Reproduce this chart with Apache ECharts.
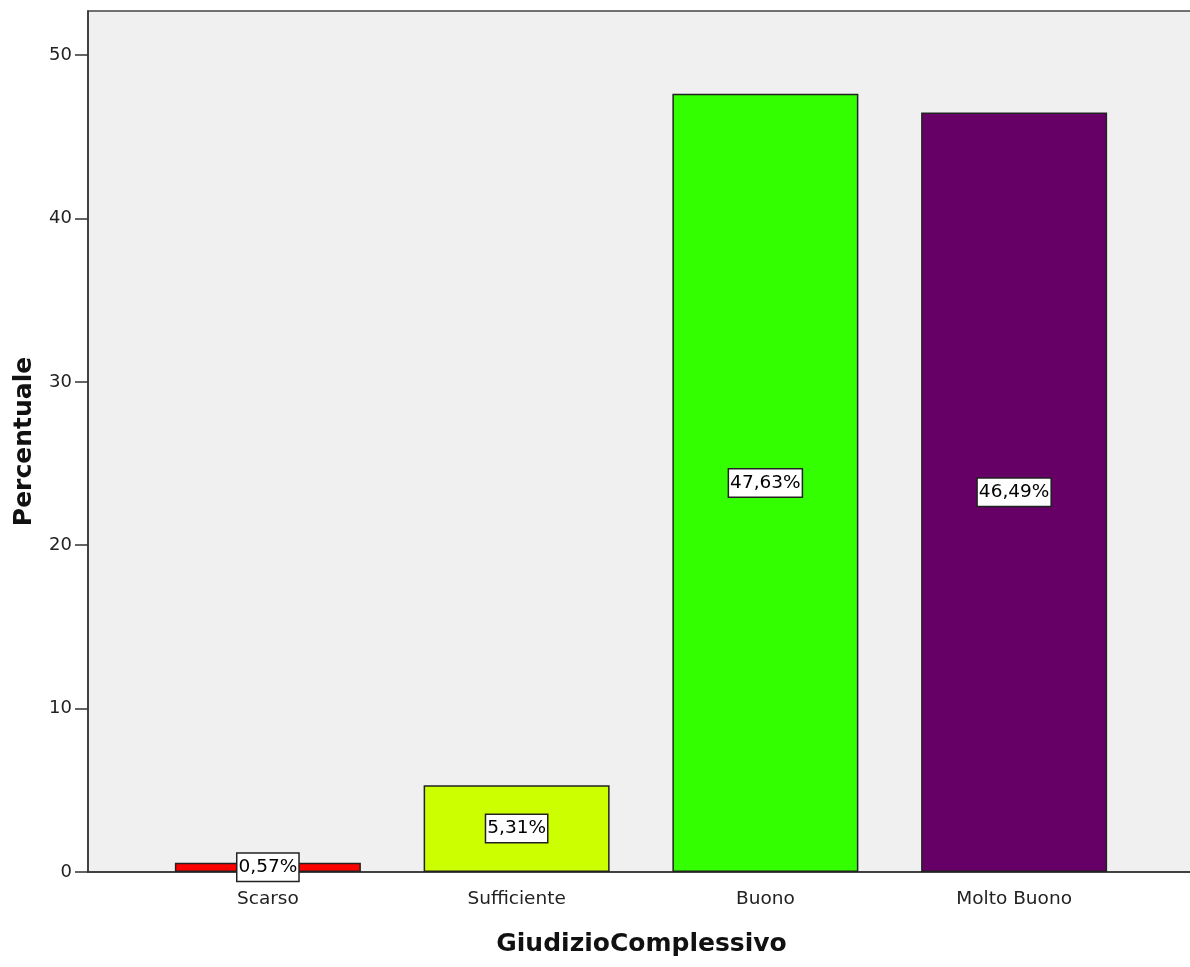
<!DOCTYPE html>
<html>
<head>
<meta charset="utf-8">
<script src="https://cdn.jsdelivr.net/npm/echarts@6/dist/echarts.min.js"></script>
<style>
  html, body { margin: 0; padding: 0; background: #fff; }
  #chart { width: 1190px; height: 967px; }
</style>
</head>
<body>
<div id="chart"></div>
<script>
var categories = ['Scarso', 'Sufficiente', 'Buono', 'Molto Buono'];
var percentuali = [0.57, 5.31, 47.63, 46.49];
var barColors = ['#ff0000', '#ccff00', '#33ff00', '#660066'];
var yTicks = [0, 10, 20, 30, 40, 50];

var chart = echarts.init(document.getElementById('chart'));
var font = 'DejaVu Sans, Verdana, sans-serif';

chart.setOption({
    animation: false,
    grid: [
        // full plot frame with grey background
        { left: 88, top: 11, right: -5, bottom: 95, show: true, backgroundColor: '#f0f0f0',
          borderColor: '#444', borderWidth: 1.5, containLabel: false, outerBoundsMode: 'none' },
        // bars area
        { left: 143.5, top: 11, right: 51.5, bottom: 95, containLabel: false, outerBoundsMode: 'none' }
    ],
    xAxis: [{
        gridIndex: 0,
        type: 'category',
        data: [],
        axisLine: { lineStyle: { color: '#333', width: 1.5 } },
        axisTick: { show: false },
        axisLabel: { show: false },
        name: 'GiudizioComplessivo',
        nameLocation: 'middle',
        nameGap: 60,
        nameTextStyle: { fontFamily: font, fontWeight: 'bold', fontSize: 25, color: '#111' }
    }, {
        gridIndex: 1,
        type: 'category',
        data: categories,
        axisLine: { show: false },
        axisTick: { alignWithLabel: true, length: 12, lineStyle: { color: '#333', width: 1.5 } },
        axisLabel: { fontFamily: font, fontSize: 18.5, color: '#222', margin: 18 }
    }],
    yAxis: [{
        gridIndex: 0,
        type: 'value',
        min: 0,
        max: 52.7,
        interval: 10,
        axisLine: { show: true, lineStyle: { color: '#333', width: 1.5 } },
        axisTick: { show: true, length: 13, customValues: yTicks, lineStyle: { color: '#333', width: 1.5 } },
        splitLine: { show: false },
        axisLabel: { fontFamily: font, fontSize: 18, color: '#222', margin: 16, customValues: yTicks },
        name: 'Percentuale',
        nameLocation: 'middle',
        nameGap: 51,
        nameTextStyle: { fontFamily: font, fontWeight: 'bold', fontSize: 25, color: '#111' }
    }, {
        gridIndex: 1,
        type: 'value',
        min: 0,
        max: 52.7,
        interval: 10,
        show: false
    }],
    series: [{
        type: 'bar',
        xAxisIndex: 1,
        yAxisIndex: 1,
        barWidth: 186,
        data: percentuali.map(function(v, i) {
            return { value: v, itemStyle: { color: barColors[i] } };
        }),
        itemStyle: { borderColor: '#222', borderWidth: 1.5 },
        label: {
            show: true,
            position: 'inside',
            fontFamily: font,
            fontSize: 18.5,
            lineHeight: 22,
            color: '#000',
            backgroundColor: '#fff',
            borderColor: '#222',
            borderWidth: 1.5,
            padding: [3, 1, 2, 1],
            formatter: function(p) { return p.value.toFixed(2).replace('.', ',') + '%'; }
        }
    }]
});
</script>
</body>
</html>
